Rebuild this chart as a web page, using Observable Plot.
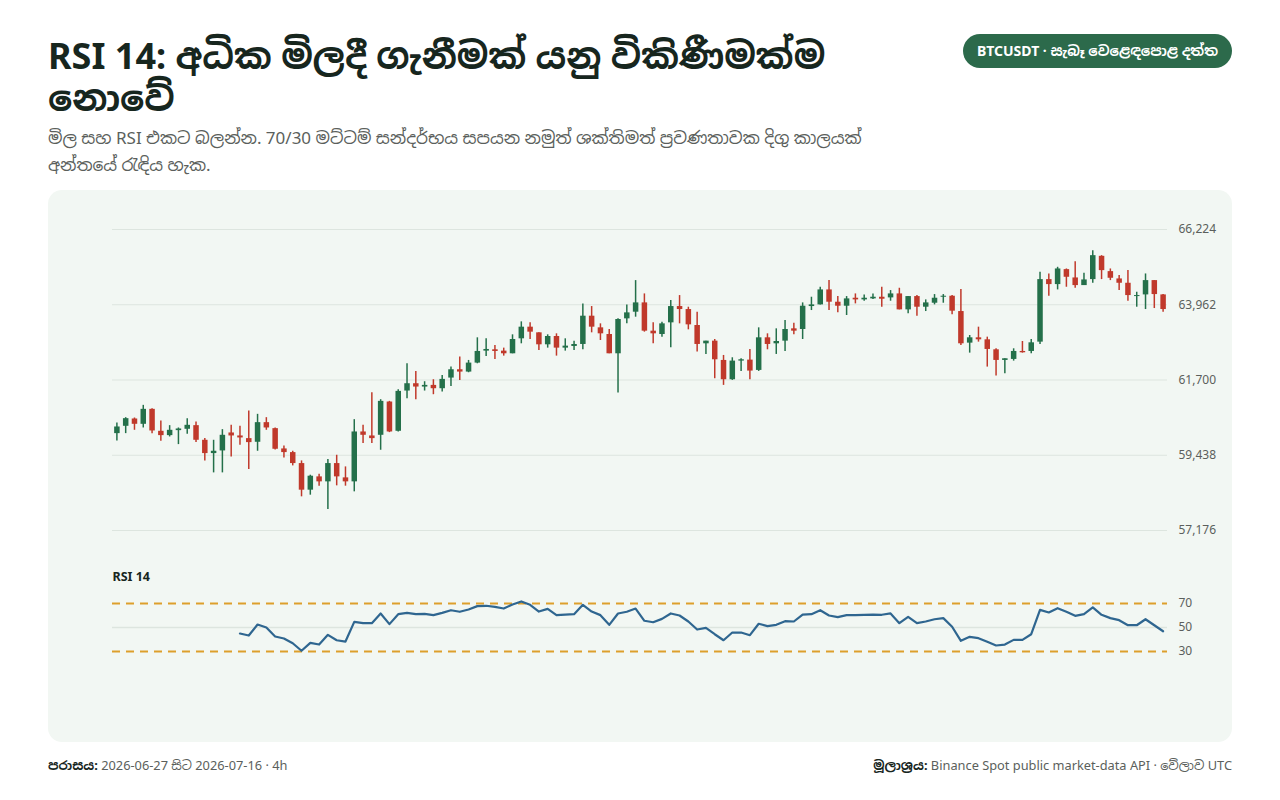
<!DOCTYPE html>
<html>
<head>
<meta charset="utf-8">
<script src="https://cdn.jsdelivr.net/npm/d3@7"></script>
<script src="https://cdn.jsdelivr.net/npm/@observablehq/plot@0.6"></script>
<style>
  html, body { margin: 0; padding: 0; background: #ffffff; }
  body { width: 1280px; height: 800px; position: relative; overflow: hidden;
         font-family: "Noto Sans", "Noto Sans Sinhala", "Open Sans", sans-serif; color: #17261e; }
  #title { position: absolute; left: 48px; top: 35px; width: 880px; margin: 0;
           font-family: "Noto Sans", "Noto Sans Sinhala", sans-serif;
           font-size: 36px; font-weight: 700; line-height: 42px; color: #17261e; }
  #subtitle { position: absolute; left: 48px; top: 124px; width: 860px; margin: 0;
              font-size: 17px; line-height: 27px; color: #5b5f5c; }
  #badge { position: absolute; right: 48px; top: 34px; height: 34px; line-height: 34px;
           padding: 0 14px; border-radius: 17px; background: #2c6a4b; color: #ffffff;
           font-size: 14px; font-weight: 700; white-space: nowrap; }
  #panel { position: absolute; left: 48px; top: 190px; width: 1184px; height: 552px;
           background: #f2f7f3; border-radius: 14px; overflow: hidden; }
  #panel svg { display: block; }
  .foot { position: absolute; top: 756px; font-size: 12.8px; line-height: 18px; color: #5b5f5c; white-space: nowrap; }
  .foot b { color: #17261e; font-weight: 700; }
  #footL { left: 48px; }
  #footR { right: 48px; }
</style>
</head>
<body>
<h1 id="title">RSI 14: අධික මිලදී ගැනීමක් යනු විකිණීමක්ම නොවේ</h1>
<p id="subtitle">මිල සහ RSI එකට බලන්න. 70/30 මට්ටම් සන්දර්භය සපයන නමුත් ශක්තිමත් ප්‍රවණතාවක දිගු කාලයක් අන්තයේ රැඳිය හැක.</p>
<div id="badge">BTCUSDT · සැබෑ වෙළෙඳපොළ දත්ත</div>
<div id="panel"></div>
<div class="foot" id="footL"><b>පරාසය:</b> 2026-06-27 සිට 2026-07-16 · 4h</div>
<div class="foot" id="footR"><b>මූලාශ්‍රය:</b> Binance Spot public market-data API · වේලාව UTC</div>
<script>
// ---- Data (4h candles, BTCUSDT) ----
const startTime = "2026-06-27T00:00:00Z";
const stepHours = 4;

const open = [
60088,60308,60528,60368,60818,60158,60028,60178,60218,60328,
59888,59488,59568,60108,60018,59938,59828,60418,60238,59628,
59518,59188,58388,58788,58638,59188,58758,58638,60138,60018,
60038,61038,60158,61368,61588,61488,61538,61438,61758,62008,
61938,62208,62568,62608,62568,62488,62938,63288,63118,62758,
63008,62658,62708,62768,63618,63268,63068,62488,63538,63738,
64018,63168,63068,63418,63908,63818,63338,62788,62868,62288,
61708,62268,62298,61988,62968,62788,62868,63238,63218,63908,
63958,64408,64038,63918,64158,64108,64138,64188,64168,64288,
63808,64208,63888,64008,64188,64218,63758,62808,62968,62908,
62608,62288,62318,62558,62558,62838,64718,64568,65018,64768,
64538,64718,65418,64958,64738,64608,64208,64258,64688,64258
];
const high = [
60408,60568,60558,60938,60838,60468,60328,60258,60538,60438,
59938,59888,60208,60338,60308,60768,60668,60568,60258,59718,
59558,59268,58838,58868,59308,59438,59088,60508,60338,61318,
61108,61058,61408,62188,61958,61648,61708,61838,62088,62388,
62288,62968,62938,62738,62658,63058,63448,63418,63118,63058,
63088,62938,62868,63988,63908,63388,63218,63538,63958,64688,
64288,63418,63438,64088,64238,63888,63738,62868,62918,62438,
62368,62338,62618,63268,63088,63238,63488,63408,64018,64188,
64488,64688,64208,64208,64288,64258,64288,64488,64388,64458,
64208,64238,64108,64268,64268,64238,64418,63038,63288,62988,
62638,62338,62638,62858,62918,64938,64888,65088,65038,65258,
64908,65588,65438,65038,64838,64988,64338,64888,64688,64268
];
const low = [
59868,60088,60188,60258,60088,59858,59988,59758,60068,59818,
59268,58908,58908,59388,59738,59008,59558,60188,59598,59358,
59118,58188,58238,58508,57808,58518,58508,58338,59788,59788,
59588,60118,60138,61138,61108,61368,61258,61338,61508,61688,
61918,62188,62408,62318,62418,62488,62788,62918,62588,62658,
62418,62568,62588,62608,63118,62888,62488,61308,63388,63588,
63138,62788,62988,62668,63388,63208,62538,62468,61738,61538,
61688,61958,61708,61958,62608,62468,62558,63058,62918,63788,
63958,63788,63718,63638,63988,64068,64118,63888,64068,63808,
63688,63618,63758,63958,64008,63658,62738,62508,62838,62088,
61818,61888,62268,62508,62488,62768,64218,64408,64488,64458,
64538,64608,64718,64688,64388,64068,63888,63818,63848,63738
];
const close = [
60288,60538,60368,60818,60168,60028,60188,60228,60338,59888,
59488,59558,60038,60018,59958,59818,60418,60258,59618,59518,
59188,58388,58808,58638,59188,58788,58638,60138,60038,59938,
61058,60138,61358,61588,61488,61538,61438,61718,62008,61938,
62208,62558,62618,62558,62488,62918,63288,63138,62758,63008,
62658,62718,62768,63618,63288,63088,62488,63518,63718,64018,
63168,63088,63388,63908,63818,63358,62768,62868,62308,61708,
62268,62308,61968,62968,62768,62858,63218,63168,63918,63958,
64408,64038,63918,64138,64108,64158,64188,64128,64288,63808,
64208,63888,64018,64158,64218,63768,62788,62968,62908,62618,
62288,62338,62558,62518,62818,64718,64568,65038,64788,64538,
64708,65438,64988,64758,64608,64238,64238,64688,64268,63818
];

// RSI(14): first value belongs to candle index 14
const rsiOffset = 14;
const rsi = [
45.0,43.3,52.5,50.0,42.5,40.8,36.9,30.6,37.2,35.8,
43.9,39.4,38.3,54.7,53.6,53.6,61.7,52.8,61.1,62.2,
61.1,61.4,60.3,62.2,64.4,63.1,65.0,67.8,68.1,67.2,
65.8,69.2,71.7,68.9,63.3,65.5,
60.3,60.8,61.1,68.9,63.3,60.3,52.2,61.7,63.1,65.8,
55.6,54.4,57.2,61.7,60.0,55.0,48.3,49.7,44.4,39.4,
45.8,45.8,43.6,53.1,51.1,52.2,55.3,55.0,60.8,61.1,
64.4,60.0,58.6,60.3,60.3,
60.6,60.8,60.6,61.7,53.6,58.9,53.6,55.0,56.9,57.8,
50.6,38.9,42.2,41.1,38.1,35.0,35.8,39.7,39.7,44.4,
64.7,62.5,66.1,63.1,59.7,61.1,66.7,60.6,57.8,56.1,
51.9,51.9,56.9,51.9,46.9
];

const priceTicks = [57176, 59438, 61700, 63962, 66224];
const rsiTicks = [30, 50, 70];
const rsiBands = [70, 30];

// ---- Build tables ----
const t0 = new Date(startTime).getTime();
const stepMs = stepHours * 3600 * 1000;
const candles = open.map((o, i) => ({
  t: new Date(t0 + i * stepMs), o, h: high[i], l: low[i], c: close[i]
}));
const up = candles.filter(d => d.c >= d.o);
const down = candles.filter(d => d.c < d.o);
const rsiData = rsi.map((v, i) => ({ t: candles[i + rsiOffset].t, v }));

const GREEN = "#24704a";
const RED = "#c0392b";
const GRID = "#dde5df";
const LABEL = "#5b5f5c";
const FONT = '"Noto Sans", "Noto Sans Sinhala", "Open Sans", sans-serif';

const xScale = {
  type: "utc",
  domain: [new Date(t0 - stepMs / 2), new Date(t0 + (open.length - 1) * stepMs + stepMs / 2)],
  axis: null
};

const common = {
  width: 1184,
  marginLeft: 64,
  marginRight: 65,
  style: { background: "transparent", fontFamily: FONT, fontSize: "12px", color: LABEL, overflow: "visible" }
};

const pricePlot = Plot.plot({
  ...common,
  height: 370,
  marginTop: 39,
  marginBottom: 30,
  x: xScale,
  y: { domain: [57176, 66224], axis: null },
  marks: [
    Plot.gridY(priceTicks, { stroke: GRID, strokeOpacity: 1, strokeWidth: 1 }),
    Plot.ruleX(up, { x: "t", y1: "l", y2: "h", stroke: GREEN, strokeWidth: 1.5 }),
    Plot.ruleX(down, { x: "t", y1: "l", y2: "h", stroke: RED, strokeWidth: 1.5 }),
    Plot.ruleX(up, { x: "t", y1: "o", y2: "c", stroke: GREEN, strokeWidth: 5.5 }),
    Plot.ruleX(down, { x: "t", y1: "o", y2: "c", stroke: RED, strokeWidth: 5.5 }),
    Plot.axisY(priceTicks, { anchor: "right", tickSize: 0, tickPadding: 11, tickFormat: d3.format(","),
      fill: LABEL, fontSize: 12, label: null })
  ]
});

const rsiPlot = Plot.plot({
  ...common,
  height: 182,
  marginTop: 7,
  marginBottom: 55,
  x: xScale,
  y: { domain: [0, 100], axis: null },
  marks: [
    Plot.ruleY([50], { stroke: GRID, strokeWidth: 1.5 }),
    Plot.ruleY(rsiBands, { stroke: "#dd9f2c", strokeWidth: 2, strokeDasharray: "8,6" }),
    Plot.line(rsiData, { x: "t", y: "v", stroke: "#2f6690", strokeWidth: 2.2, curve: "linear" }),
    Plot.axisY(rsiTicks, { anchor: "right", tickSize: 0, tickPadding: 11, fill: LABEL, fontSize: 12, label: null }),
    Plot.text(["RSI 14"], { frameAnchor: "top-left", dy: 5, textAnchor: "start", fontWeight: 700,
      fontSize: 12.5, fill: "#17261e" })
  ]
});

const panel = document.getElementById("panel");
panel.appendChild(pricePlot);
panel.appendChild(rsiPlot);
</script>
</body>
</html>
